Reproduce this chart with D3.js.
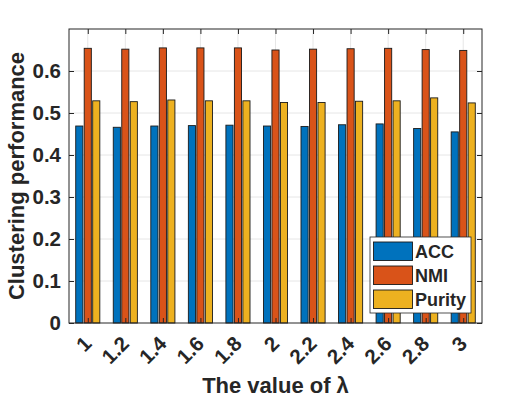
<!DOCTYPE html>
<html><head><meta charset="utf-8">
<script src="https://cdn.jsdelivr.net/npm/d3@7"></script>
<style>
body{margin:0;background:#fff;}
text{font-family:"Liberation Sans",Arial,Helvetica,sans-serif;font-weight:bold;fill:#262626;}
</style></head>
<body><svg id="c" width="532" height="399"></svg>
<script>
const categories = ["1","1.2","1.4","1.6","1.8","2","2.2","2.4","2.6","2.8","3"];
const seriesNames = ["ACC","NMI","Purity"];
const acc    = [0.469,0.466,0.469,0.470,0.471,0.469,0.468,0.472,0.474,0.463,0.455];
const nmi    = [0.654,0.652,0.655,0.655,0.655,0.650,0.652,0.653,0.654,0.651,0.649];
const purity = [0.529,0.527,0.531,0.529,0.529,0.525,0.525,0.528,0.529,0.536,0.524];
const yTicks = [0,0.1,0.2,0.3,0.4,0.5,0.6];
const colors = ["#0072BD","#D95319","#EDB120"];

const series = [acc, nmi, purity];
const svg = d3.select("#c");
const L=69, R=482, T=29, B=323;
const x = d3.scaleLinear().domain([0.5, categories.length+0.5]).range([L,R]);
const y = d3.scaleLinear().domain([0,0.7]).range([B,T]);
const off = [-0.226,0,0.226], bw = 0.19;

// grid
const g = svg.append("g");
g.selectAll(".gy").data(yTicks.slice(1)).enter().append("line")
 .attr("x1",L).attr("x2",R).attr("y1",d=>y(d)).attr("y2",d=>y(d))
 .attr("stroke","#e6e6e6").attr("stroke-width",1);
g.selectAll(".gx").data(categories).enter().append("line")
 .attr("x1",(d,i)=>x(i+1)).attr("x2",(d,i)=>x(i+1)).attr("y1",T).attr("y2",B)
 .attr("stroke","#e6e6e6").attr("stroke-width",1);

// bars
series.forEach((s,k)=>{
  svg.append("g").selectAll("rect").data(s).enter().append("rect")
   .attr("x",(d,i)=>x(i+1+off[k]-bw/2))
   .attr("width",x(bw)-x(0))
   .attr("y",d=>y(d)).attr("height",d=>B-y(d))
   .attr("fill",colors[k]).attr("stroke","#1a1a1a").attr("stroke-width",0.9);
});

// box
svg.append("rect").attr("x",L).attr("y",T).attr("width",R-L).attr("height",B-T)
 .attr("fill","none").attr("stroke","#262626").attr("stroke-width",1);

// y axis
const ya = svg.append("g").attr("transform",`translate(${L},0)`)
 .call(d3.axisLeft(y).tickValues(yTicks).tickFormat(d3.format("")).tickSizeInner(-5).tickSizeOuter(0).tickPadding(8));
ya.select(".domain").remove();
ya.selectAll("line").attr("stroke","#262626");
ya.selectAll("text").attr("font-size","20.5px").style("font-family",null).attr("fill","#262626").style("font-weight","bold");
const yr = svg.append("g").attr("transform",`translate(${R},0)`)
 .call(d3.axisRight(y).tickValues(yTicks).tickFormat("").tickSizeInner(-5).tickSizeOuter(0));
yr.select(".domain").remove(); yr.selectAll("line").attr("stroke","#262626");

// x axis
const xa = svg.append("g").attr("transform",`translate(0,${B})`)
 .call(d3.axisBottom(x).tickValues(d3.range(1,categories.length+1)).tickFormat("").tickSizeInner(-5).tickSizeOuter(0));
xa.select(".domain").remove(); xa.selectAll("line").attr("stroke","#262626");
const xt = svg.append("g").attr("transform",`translate(0,${T})`)
 .call(d3.axisTop(x).tickValues(d3.range(1,categories.length+1)).tickFormat("").tickSizeInner(-5).tickSizeOuter(0));
xt.select(".domain").remove(); xt.selectAll("line").attr("stroke","#262626");

svg.append("g").selectAll("text").data(categories).enter().append("text")
 .attr("transform",(d,i)=>`translate(${x(i+1)+5},${B+22}) rotate(-45)`)
 .attr("text-anchor","end").attr("font-size","20.5px").text(d=>d);

// titles
svg.append("text").attr("x",x(6)).attr("y",393).attr("text-anchor","middle")
 .attr("font-size","22px").text("The value of λ");
svg.append("text").attr("transform",`translate(24,${(T+B)/2}) rotate(-90)`)
 .attr("text-anchor","middle").attr("font-size","22px").text("Clustering performance");

// legend
const lg = svg.append("g");
lg.append("rect").attr("x",370).attr("y",237).attr("width",101).attr("height",76)
 .attr("fill","#fff").attr("stroke","#262626").attr("stroke-width",0.8);
seriesNames.forEach((n,k)=>{
  lg.append("rect").attr("x",373.5).attr("y",242+k*24).attr("width",39).attr("height",18.5)
   .attr("fill",colors[k]).attr("stroke","#1a1a1a").attr("stroke-width",0.9);
  lg.append("text").attr("x",415).attr("y",258+k*24).attr("font-size","18px").attr("fill","#000").text(n);
});
</script></body></html>
